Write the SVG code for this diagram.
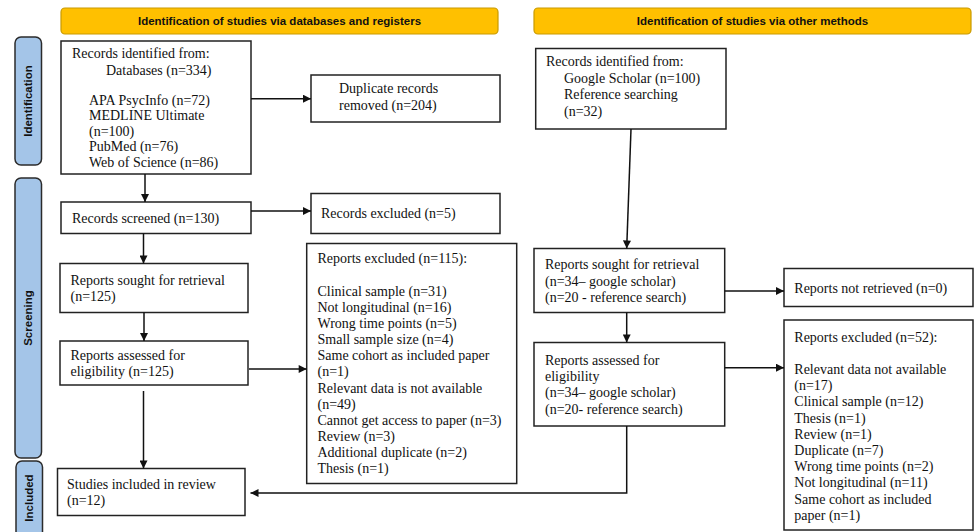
<svg xmlns="http://www.w3.org/2000/svg" width="974" height="532" viewBox="0 0 974 532">
<defs>
<style>
.bn{fill:#FFC000;stroke:#C99A00;stroke-width:1.2}
.sb{fill:#A4C5E8;stroke:#2B2B2B;stroke-width:1.5}
.bx{fill:#fff;stroke:#222;stroke-width:1.5}
.bt{font-family:"Liberation Sans",Arial,sans-serif;font-weight:bold;font-size:11.5px;fill:#111;text-anchor:middle}
.t{font-family:"Liberation Serif","Times New Roman",serif;font-size:14px;fill:#111}
.c{fill:none;stroke:#111;stroke-width:1.5}
</style>
<marker id="ah" viewBox="0 0 10 10" refX="10" refY="5" markerWidth="9" markerHeight="8" markerUnits="userSpaceOnUse" orient="auto">
<path d="M0,0 L10,5 L0,10 z" fill="#111"/>
</marker>
</defs>
<rect width="974" height="532" fill="#fff"/>

<g id="banner-db">
<rect class="bn" x="61" y="8" width="437" height="26" rx="4"/>
<text class="bt" x="279.5" y="25">Identification of studies via databases and registers</text>
</g>
<g id="banner-other">
<rect class="bn" x="534" y="8" width="437" height="26" rx="4"/>
<text class="bt" x="752.5" y="25">Identification of studies via other methods</text>
</g>

<g id="phase-identification">
<rect class="sb" x="15" y="37" width="26.5" height="128" rx="6"/>
<text class="bt" transform="translate(32.2,101) rotate(-90)">Identification</text>
</g>
<g id="phase-screening">
<rect class="sb" x="15" y="178" width="26.5" height="280" rx="6"/>
<text class="bt" transform="translate(32.2,318) rotate(-90)">Screening</text>
</g>
<g id="phase-included">
<rect class="sb" x="16" y="461" width="26.5" height="80" rx="6"/>
<text class="bt" transform="translate(33.2,498) rotate(-90)">Included</text>
</g>

<g id="records-db">
<rect class="bx" x="61" y="41" width="190" height="133"/>
<text class="t" x="72" y="58">Records identified from:</text>
<text class="t" x="106" y="74.5">Databases (n=334)</text>
<text class="t" x="89" y="104.5">APA PsycInfo (n=72)</text>
<text class="t" x="89" y="120">MEDLINE Ultimate</text>
<text class="t" x="89" y="135.5">(n=100)</text>
<text class="t" x="89" y="151">PubMed (n=76)</text>
<text class="t" x="89" y="167">Web of Science (n=86)</text>
</g>
<g id="duplicates">
<rect class="bx" x="311" y="75" width="189" height="47"/>
<text class="t" x="339" y="93">Duplicate records</text>
<text class="t" x="339" y="109.5">removed (n=204)</text>
</g>
<g id="screened">
<rect class="bx" x="61" y="202" width="190" height="31.5"/>
<text class="t" x="72" y="223">Records screened (n=130)</text>
</g>
<g id="excluded-records">
<rect class="bx" x="311" y="193.5" width="189" height="40"/>
<text class="t" x="321" y="218">Records excluded (n=5)</text>
</g>
<g id="sought-db">
<rect class="bx" x="60" y="263.5" width="188" height="49"/>
<text class="t" x="70.5" y="284.5">Reports sought for retrieval</text>
<text class="t" x="70.5" y="301">(n=125)</text>
</g>
<g id="assessed-db">
<rect class="bx" x="60" y="341" width="188" height="44"/>
<text class="t" x="70.5" y="359.5">Reports assessed for</text>
<text class="t" x="70.5" y="376">eligibility (n=125)</text>
</g>
<g id="excluded-db">
<rect class="bx" x="306.7" y="243.5" width="210" height="240"/>
<text class="t" x="317.5" y="263">Reports excluded (n=115):</text>
<text class="t" x="317.5" y="295.5">Clinical sample (n=31)</text>
<text class="t" x="317.5" y="311.7">Not longitudinal (n=16)</text>
<text class="t" x="317.5" y="327.8">Wrong time points (n=5)</text>
<text class="t" x="317.5" y="344">Small sample size (n=4)</text>
<text class="t" x="317.5" y="360.2">Same cohort as included paper</text>
<text class="t" x="317.5" y="376.3">(n=1)</text>
<text class="t" x="317.5" y="392.5">Relevant data is not available</text>
<text class="t" x="317.5" y="408.7">(n=49)</text>
<text class="t" x="317.5" y="424.8">Cannot get access to paper (n=3)</text>
<text class="t" x="317.5" y="441">Review (n=3)</text>
<text class="t" x="317.5" y="457.2">Additional duplicate (n=2)</text>
<text class="t" x="317.5" y="473.3">Thesis (n=1)</text>
</g>
<g id="included">
<rect class="bx" x="57.5" y="468.5" width="187.5" height="47"/>
<text class="t" x="67" y="488.5">Studies included in review</text>
<text class="t" x="67" y="504.5">(n=12)</text>
</g>

<g id="records-other">
<rect class="bx" x="535.7" y="48.5" width="190.3" height="80.5"/>
<text class="t" x="546" y="66">Records identified from:</text>
<text class="t" x="564" y="83">Google Scholar (n=100)</text>
<text class="t" x="564" y="99">Reference searching</text>
<text class="t" x="564" y="115.5">(n=32)</text>
</g>
<g id="sought-other">
<rect class="bx" x="534" y="248.5" width="190.7" height="64"/>
<text class="t" x="545" y="269">Reports sought for retrieval</text>
<text class="t" x="545" y="285.5">(n=34– google scholar)</text>
<text class="t" x="545" y="302">(n=20 - reference search)</text>
</g>
<g id="not-retrieved">
<rect class="bx" x="784" y="268.5" width="189" height="38"/>
<text class="t" x="794.3" y="293">Reports not retrieved (n=0)</text>
</g>
<g id="assessed-other">
<rect class="bx" x="534" y="342.5" width="190.7" height="83.5"/>
<text class="t" x="545" y="364.5">Reports assessed for</text>
<text class="t" x="545" y="380.5">eligibility</text>
<text class="t" x="545" y="397">(n=34– google scholar)</text>
<text class="t" x="545" y="413.5">(n=20- reference search)</text>
</g>
<g id="excluded-other">
<rect class="bx" x="784" y="320" width="189" height="210"/>
<text class="t" x="794.3" y="342">Reports excluded (n=52):</text>
<text class="t" x="794.3" y="374">Relevant data not available</text>
<text class="t" x="794.3" y="390.2">(n=17)</text>
<text class="t" x="794.3" y="406.4">Clinical sample (n=12)</text>
<text class="t" x="794.3" y="422.6">Thesis (n=1)</text>
<text class="t" x="794.3" y="438.8">Review (n=1)</text>
<text class="t" x="794.3" y="455">Duplicate (n=7)</text>
<text class="t" x="794.3" y="471.2">Wrong time points (n=2)</text>
<text class="t" x="794.3" y="487.4">Not longitudinal (n=11)</text>
<text class="t" x="794.3" y="503.6">Same cohort as included</text>
<text class="t" x="794.3" y="519.8">paper (n=1)</text>
</g>

<g id="connectors">
<line class="c" x1="145" y1="174" x2="145" y2="202" marker-end="url(#ah)"/>
<line class="c" x1="251" y1="98.7" x2="311" y2="98.7" marker-end="url(#ah)"/>
<line class="c" x1="251" y1="211" x2="311" y2="211" marker-end="url(#ah)"/>
<line class="c" x1="143.5" y1="233.5" x2="143.5" y2="263.5" marker-end="url(#ah)"/>
<line class="c" x1="144" y1="312.5" x2="144" y2="341" marker-end="url(#ah)"/>
<line class="c" x1="249" y1="369" x2="306.7" y2="369" marker-end="url(#ah)"/>
<line class="c" x1="143.5" y1="391" x2="143.5" y2="468.5" marker-end="url(#ah)"/>
<line class="c" x1="631" y1="129" x2="626.7" y2="248.5" marker-end="url(#ah)"/>
<line class="c" x1="724.7" y1="291" x2="784" y2="291" marker-end="url(#ah)"/>
<line class="c" x1="626.7" y1="312.5" x2="626.7" y2="342.5" marker-end="url(#ah)"/>
<line class="c" x1="724.7" y1="367.7" x2="784" y2="367.7" marker-end="url(#ah)"/>
<polyline class="c" points="626.7,426 626.7,493 250.5,493" marker-end="url(#ah)"/>
</g>
</svg>
